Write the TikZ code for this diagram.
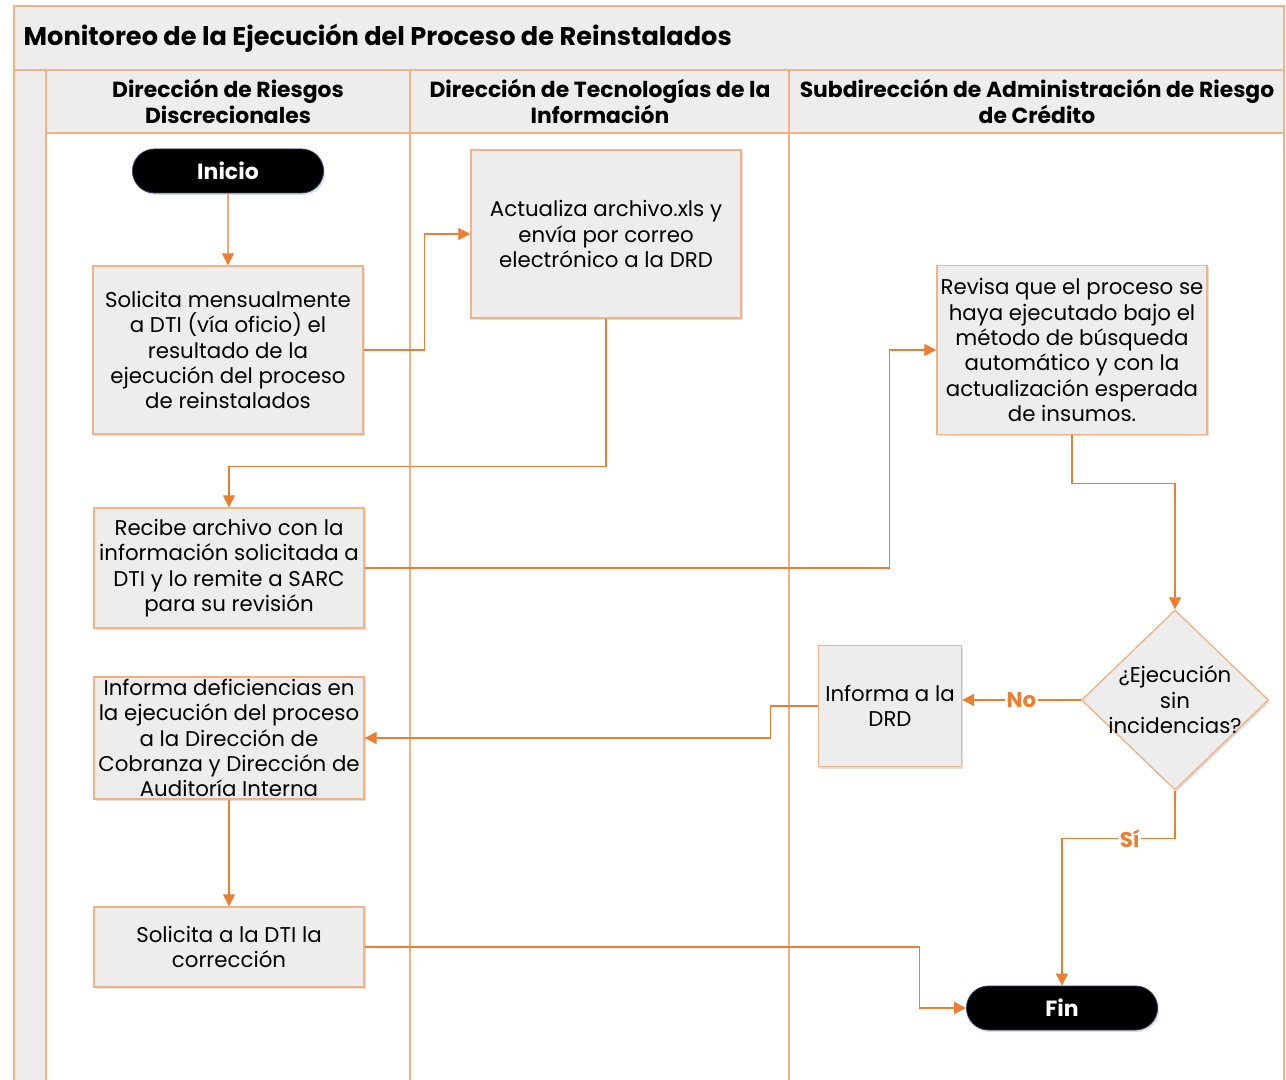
\documentclass[tikz,border=0pt]{standalone}
\usepackage{fontspec}
\setmainfont{Poppins}
\usetikzlibrary{arrows.meta}
\usetikzlibrary{calc}
\usetikzlibrary{shapes}
\usetikzlibrary{shadows}
\definecolor{lineorange}{HTML}{ED7D31}
\definecolor{frameorange}{HTML}{F4B183}
\definecolor{boxgray}{HTML}{EDEDED}
\definecolor{termborder}{HTML}{2F4060}

\begin{document}
\begin{tikzpicture}[x=0.75pt, y=-0.75pt, font=\fontsize{16}{19}\selectfont,
        frame_style/.style={draw=frameorange, line width=1.3pt},
        header_style/.style={draw=frameorange, line width=1.3pt, fill=boxgray},
        head_text/.style={align=center, font=\fontsize{16.4}{19.5}\selectfont\bfseries},
        box_style/.style={rectangle, draw=frameorange, fill=boxgray, line width=1pt, align=center, inner sep=1pt,
            drop shadow={shadow xshift=1.2pt, shadow yshift=-1.5pt, opacity=0.25}},
        decision_style/.style={diamond, draw=frameorange, fill=boxgray, line width=1pt, inner sep=0pt,
            minimum width=140.25pt, minimum height=135pt,
            drop shadow={shadow xshift=1.2pt, shadow yshift=-1.5pt, opacity=0.25}},
        term_style/.style={rounded rectangle, draw=termborder, fill=black, text=white, line width=0.6pt,
            minimum width=150pt, minimum height=33pt, font=\fontsize{16.5}{19}\selectfont\bfseries,
            drop shadow={shadow xshift=1.2pt, shadow yshift=-1.5pt, opacity=0.25}},
        edge_style/.style={draw=lineorange, line width=0.9pt, -{Triangle[length=9pt, width=9pt]}},
        answer_style/.style={fill=white, text=lineorange, inner sep=1pt, font=\fontsize{16}{19}\selectfont\bfseries}]

        \useasboundingbox (0,0) rectangle (1286,1080);
        \fill[white] (0,0) rectangle (1286,1080);

        \draw [header_style] (14,6) rectangle (1284,70);
        \node [anchor=west, font=\fontsize{19.2}{23}\selectfont\bfseries] (title) at (19,38) {Monitoreo de la Ejecución del Proceso de Reinstalados};
        \draw [header_style] (14,70) rectangle (46,1085);
        \draw [header_style] (46,70) rectangle (410,133);
        \draw [header_style] (410,70) rectangle (789,133);
        \draw [header_style] (789,70) rectangle (1284,133);
        \draw [frame_style] (410,133) -- (410,1085);
        \draw [frame_style] (789,133) -- (789,1085);
        \draw [frame_style] (1284,133) -- (1284,1085);
        \node [head_text] (lane1) at (228,101) {Dirección de Riesgos\\Discrecionales};
        \node [head_text] (lane2) at (600,101) {Dirección de Tecnologías de la\\Información};
        \node [head_text] (lane3) at (1037,101) {Subdirección de Administración de Riesgo\\de Crédito};

        \node [term_style] (inicio) at (228,171) {Inicio};
        \node [box_style, minimum width=202.5pt, minimum height=126pt] (solicita) at (228,350) {Solicita mensualmente\\a DTI (vía oficio) el\\resultado de la\\ejecución del proceso\\de reinstalados};
        \node [box_style, minimum width=202.5pt, minimum height=126pt] (actualiza) at (606,234) {Actualiza archivo.xls y\\envía por correo\\electrónico a la DRD};
        \node [box_style, minimum width=202.5pt, minimum height=90pt] (recibe) at (229,568) {Recibe archivo con la\\información solicitada a\\DTI y lo remite a SARC\\para su revisión};
        \node [box_style, minimum width=202.5pt, minimum height=126.75pt] (revisa) at (1072,350) {Revisa que el proceso se\\haya ejecutado bajo el\\método de búsqueda\\automático y con la\\actualización esperada\\de insumos.};
        \node [decision_style, label={[align=center]center:¿Ejecución\\sin\\incidencias?}] (decision) at (1175,700) {};
        \node [box_style, minimum width=107.25pt, minimum height=90.75pt] (informa) at (890,706) {Informa a la\\DRD};
        \node [box_style, minimum width=202.5pt, minimum height=91.5pt] (deficiencias) at (229,738) {Informa deficiencias en\\la ejecución del proceso\\a la Dirección de\\Cobranza y Dirección de\\Auditoría Interna};
        \node [box_style, minimum width=202.5pt, minimum height=60pt] (correccion) at (229,947) {Solicita a la DTI la\\corrección};
        \node [term_style] (fin) at (1062,1008) {Fin};

        \draw [edge_style] (inicio) -- (solicita);
        \draw [edge_style] (solicita.east) -- ++(61,0) |- (actualiza.west);
        \draw [edge_style] (actualiza.south) -- ++(0,148) -| (recibe.north);
        \draw [edge_style] (recibe.east) -- ++(525,0) |- (revisa.west);
        \draw [edge_style] (revisa.south) -- ++(0,48) -| (decision.north);
        \draw [edge_style] (decision.west) -- node[answer_style]{No} (decision.west -| informa.east);
        \draw [edge_style] (informa.west) -- ++(-47,0) |- (deficiencias.east);
        \draw [edge_style] (deficiencias) -- (correccion);
        \draw [edge_style] (correccion.east) -- ++(555,0) |- (fin.west);
        \draw [edge_style] (decision.south) -- ++(0,48) -| node[answer_style, pos=0.2]{Sí} (fin.north);
\end{tikzpicture}
\end{document}
